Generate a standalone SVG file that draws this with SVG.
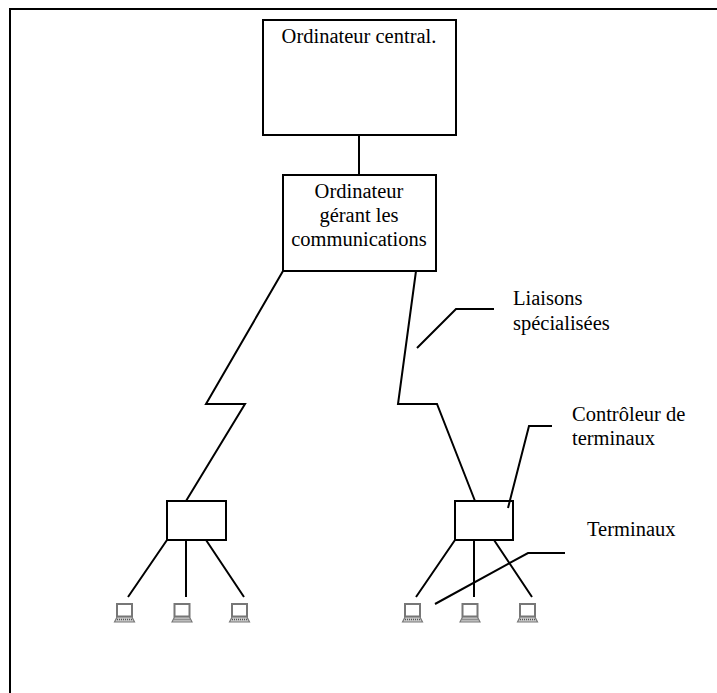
<svg xmlns="http://www.w3.org/2000/svg" width="717" height="693" viewBox="0 0 717 693">
<style>
.l{fill:none;stroke:#000;stroke-width:2}
.b{fill:#fff;stroke:#000;stroke-width:2}
.n{fill:none;stroke:#000;stroke-width:2}
text{font-family:"Liberation Serif","Times New Roman",serif;font-size:20.500px;fill:#000}
.c{text-anchor:middle}
</style>
<defs>
<g id="laptop">
<rect x="-7.500" y="-8" width="15" height="12.500" fill="#fff" stroke="#777" stroke-width="2"/>
<path d="M-10 10L-7.500 5H7.500L10 10Z" fill="#ccc" stroke="#777" stroke-width="1.200"/>
<path d="M-7.500 7.500H7.500" stroke="#555" stroke-width="1.500" stroke-dasharray="1 1" fill="none"/>
</g>
</defs>
<path id="page" d="M10 693V9H717" fill="none" stroke="#000" stroke-width="2"/>
<g id="central"><rect class="b" x="263" y="20" width="193" height="115"/><text class="c" x="359" y="43">Ordinateur central.</text></g>
<g id="comm"><rect class="b" x="283" y="175" width="153" height="96"/><text class="c" x="359" y="198">Ordinateur</text><text class="c" x="359" y="222">gérant les</text><text class="c" x="359" y="246">communications</text></g>
<g id="ctrl1"><rect class="n" x="167" y="501" width="59" height="39"/></g>
<g id="ctrl2"><rect class="n" x="455" y="501" width="58" height="39"/></g>
<g id="t1"><use href="#laptop" x="124.500" y="612"/></g>
<g id="t2"><use href="#laptop" x="182" y="612"/></g>
<g id="t3"><use href="#laptop" x="239.500" y="612"/></g>
<g id="t4"><use href="#laptop" x="412.500" y="612"/></g>
<g id="t5"><use href="#laptop" x="470" y="612"/></g>
<g id="t6"><use href="#laptop" x="527.500" y="612"/></g>
<g id="lab1"><text x="513" y="305">Liaisons</text><text x="513" y="330">spécialisées</text></g>
<g id="lab2"><text x="572" y="421">Contrôleur de</text><text x="572" y="445">terminaux</text></g>
<g id="lab3"><text x="587" y="536">Terminaux</text></g>
<g id="connectors">
<path class="l" d="M359 135V175"/>
<path class="l" d="M283 271L206 404H245L186 501"/>
<path class="l" d="M416 271L398 404H437L475 501"/>
<path class="l" d="M167 540L128 597M186 540V597M206 540L244 597"/>
<path class="l" d="M455 540L416 597M474 540V597M494 540L532 597"/>
<path class="l" d="M417 348L456 309H494"/>
<path class="l" d="M508 508L529 426H552"/>
<path class="l" d="M435 604L528 553H565"/>
</g>
</svg>
